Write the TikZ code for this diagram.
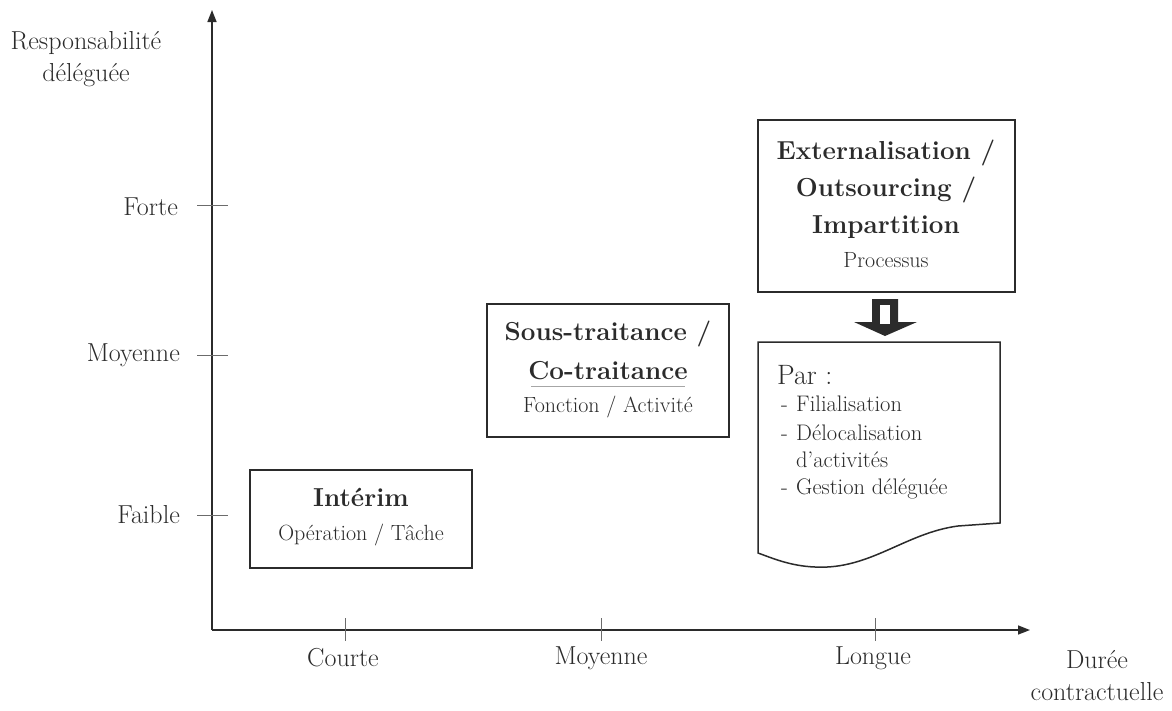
\documentclass[tikz,border=0pt]{standalone}
\usetikzlibrary{arrows.meta}
\definecolor{ink}{gray}{0.17}
\tikzset{
  axis/.style={line width=1.5pt, draw=ink, -{Triangle[length=12pt,width=9pt]}},
  tick/.style={line width=0.9pt, draw=ink!70},
  lab/.style={font=\fontsize{26}{30}\selectfont, text=ink, inner sep=0pt},
  boxx/.style={draw=ink, line width=1.5pt, fill=white},
  ttl/.style={font=\fontsize{26}{30}\selectfont\bfseries, text=ink, inner sep=0pt},
  sub/.style={font=\fontsize{22}{26}\selectfont, text=ink, inner sep=0pt},
  item/.style={font=\fontsize{22.5}{26}\selectfont, text=ink, inner sep=0pt, anchor=base west},
}
\begin{document}
\begin{tikzpicture}[x=1pt,y=-1pt]
\useasboundingbox (0,0) rectangle (1172,710);
% axes
\coordinate (O) at (212,630);
\coordinate (Ytop) at (212,10);
\coordinate (Xend) at (1030,630);
\draw[axis] (O) -- (Ytop);
\draw[axis] (O) -- (Xend);
% y ticks
\draw[tick] (197,205) -- (228,205);
\draw[tick] (197,355) -- (228,355);
\draw[tick] (197,515) -- (228,515);
% x ticks
\draw[tick] (345,618) -- (345,641);
\draw[tick] (601,618) -- (601,641);
\draw[tick] (875,618) -- (875,641);
% axis labels
\node[lab] (ylab1) at (86,43) {Responsabilit\'e};
\node[lab] (ylab2) at (86,75) {d\'el\'egu\'ee};
\node[lab, anchor=east] (forte) at (178,207) {Forte};
\node[lab, anchor=east] (moy) at (180,355) {Moyenne};
\node[lab, anchor=east] (faible) at (180,515) {Faible};
\node[lab] (courte) at (343,658) {Courte};
\node[lab] (moyx) at (601,658) {Moyenne};
\node[lab] (longue) at (873,658) {Longue};
\node[lab] (xlab1) at (1097,660) {Dur\'ee};
\node[lab] (xlab2) at (1097,692) {contractuelle};
% Interim box
\draw[boxx] (250,470) rectangle (472,568);
\node[ttl] (interim) at (361,497) {Int\'erim};
\node[sub] (op) at (361,535) {Op\'eration / T\^ache};
% Sous-traitance box
\draw[boxx] (487,304) rectangle (729,437);
\node[ttl] (sous) at (608,334) {Sous-traitance /};
\node[ttl] (co) at (608,371) {Co-traitance};
\node[sub] (fonc) at (608,407) {Fonction / Activit\'e};
\draw[gray!70, line width=1pt] (531,386) -- (685,386);
% Externalisation box
\draw[boxx] (758,120) rectangle (1015,292);
\node[ttl] (ext) at (886,153) {Externalisation /};
\node[ttl] (out) at (886,190) {Outsourcing /};
\node[ttl] (imp) at (886,227) {Impartition};
\node[sub] (proc) at (886,260) {Processus};
% block arrow
\fill[ink] (872,299) -- (898,299) -- (898,322) -- (917,322) -- (885,336) -- (854,322) -- (872,322) -- cycle;
\fill[white] (880,305) rectangle (890,324);
% document shape
\draw[boxx] (758,342) -- (1000,342) -- (1000,523) -- (958,526)
  .. controls (905,533) and (870,570) .. (815,567)
  .. controls (790,566) and (772,558) .. (758,553) -- cycle;
\node[font=\fontsize{28}{32}\selectfont, text=ink, inner sep=0pt, anchor=base west] (par) at (777,384) {Par :};
\node[item] (d1) at (781,411) {-};
\node[item] (i1) at (796,411) {Filialisation};
\node[item] (d2) at (781,440) {-};
\node[item] (i2) at (796,440) {D\'elocalisation};
\node[item] (i2b) at (796,467) {d'activit\'es};
\node[item] (d3) at (781,494) {-};
\node[item] (i3) at (796,494) {Gestion d\'el\'egu\'ee};
\end{tikzpicture}
\end{document}
